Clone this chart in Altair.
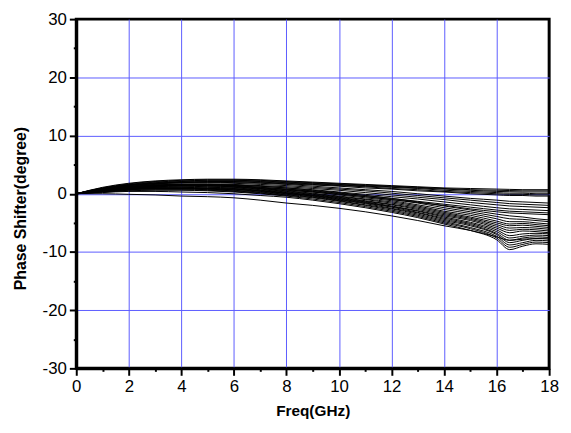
import altair as alt
import pandas as pd

freq = [0, 1, 2, 3, 4, 5, 6, 7, 8, 9, 10, 11, 12, 13, 14, 15, 16, 16.5, 17, 17.5, 18]

curves = {
    "T1": [0, 1.1, 1.8, 2.2, 2.4, 2.5, 2.5, 2.4, 2.2, 2.0, 1.8, 1.6, 1.4, 1.2, 1.0, 0.9, 0.8, 0.75, 0.7, 0.7, 0.7],
    "T2": [0, 1.0, 1.7, 2.1, 2.3, 2.4, 2.4, 2.3, 2.1, 1.9, 1.7, 1.5, 1.3, 1.1, 0.9, 0.7, 0.6, 0.55, 0.5, 0.5, 0.5],
    "T3": [0, 1.0, 1.6, 2.0, 2.2, 2.3, 2.3, 2.2, 2.0, 1.8, 1.6, 1.4, 1.2, 1.0, 0.8, 0.6, 0.4, 0.35, 0.3, 0.3, 0.3],
    "T4": [0, 0.9, 1.5, 1.9, 2.1, 2.2, 2.2, 2.1, 1.9, 1.7, 1.5, 1.3, 1.1, 0.9, 0.6, 0.4, 0.2, 0.1, 0.1, 0.0, 0.0],
    "T5": [0, 0.9, 1.5, 1.8, 2.0, 2.1, 2.1, 2.0, 1.8, 1.6, 1.4, 1.2, 0.9, 0.7, 0.4, 0.2, 0.0, -0.1, -0.1, -0.2, -0.2],
    "T6": [0, 0.8, 1.4, 1.7, 1.9, 2.0, 2.0, 1.9, 1.7, 1.5, 1.3, 1.0, 0.8, 0.5, 0.3, 0.0, -0.2, -0.3, -0.3, -0.4, -0.4],
    "M1": [0, 0.9, 1.5, 1.8, 2.0, 2.0, 1.9, 1.8, 1.6, 1.3, 1.0, 0.7, 0.4, 0.0, -0.4, -0.8, -1.1, -1.3, -1.4, -1.5, -1.6],
    "M2": [0, 0.8, 1.4, 1.7, 1.9, 1.9, 1.8, 1.6, 1.4, 1.1, 0.8, 0.5, 0.1, -0.3, -0.7, -1.1, -1.5, -1.7, -1.8, -1.9, -2.0],
    "M3": [0, 0.8, 1.3, 1.6, 1.7, 1.7, 1.6, 1.4, 1.2, 0.9, 0.6, 0.2, -0.2, -0.6, -1.0, -1.5, -1.9, -2.1, -2.2, -2.3, -2.4],
    "M4": [0, 0.7, 1.2, 1.5, 1.6, 1.6, 1.5, 1.3, 1.0, 0.7, 0.3, -0.1, -0.5, -0.9, -1.4, -1.9, -2.4, -2.6, -2.7, -2.8, -2.9],
    "M5": [0, 0.7, 1.2, 1.4, 1.5, 1.5, 1.4, 1.1, 0.8, 0.5, 0.1, -0.3, -0.8, -1.3, -1.8, -2.3, -2.8, -3.0, -3.1, -3.2, -3.3],
    "M6": [0, 0.6, 1.1, 1.3, 1.4, 1.4, 1.2, 0.9, 0.6, 0.3, -0.1, -0.5, -1.0, -1.5, -2.0, -2.6, -3.1, -3.3, -3.4, -3.5, -3.6],
    "L1": [0, 0.7, 1.2, 1.5, 1.6, 1.6, 1.5, 1.3, 1.0, 0.6, 0.2, -0.3, -0.8, -1.4, -2.1, -2.8, -3.5, -3.8, -4.0, -4.3, -4.5],
    "L2": [0, 0.7, 1.1, 1.4, 1.5, 1.5, 1.4, 1.1, 0.8, 0.4, 0.0, -0.5, -1.0, -1.6, -2.4, -3.1, -3.9, -4.3, -4.4, -4.6, -4.8],
    "L3": [0, 0.6, 1.1, 1.3, 1.4, 1.4, 1.3, 1.0, 0.7, 0.3, -0.2, -0.7, -1.2, -1.9, -2.7, -3.4, -4.3, -4.8, -4.8, -5.0, -5.2],
    "L4": [0, 0.6, 1.0, 1.3, 1.4, 1.3, 1.2, 0.9, 0.5, 0.1, -0.4, -0.9, -1.4, -2.1, -3.0, -3.7, -4.7, -5.2, -5.1, -5.3, -5.5],
    "L5": [0, 0.6, 1.0, 1.2, 1.3, 1.2, 1.1, 0.8, 0.4, 0.0, -0.5, -1.0, -1.6, -2.3, -3.2, -4.0, -5.0, -5.5, -5.4, -5.6, -5.8],
    "L6": [0, 0.5, 0.9, 1.1, 1.2, 1.1, 1.0, 0.7, 0.3, -0.1, -0.6, -1.2, -1.8, -2.5, -3.4, -4.2, -5.3, -5.9, -5.8, -5.9, -6.1],
    "L7": [0, 0.5, 0.9, 1.1, 1.1, 1.0, 0.9, 0.6, 0.2, -0.2, -0.7, -1.3, -1.9, -2.7, -3.6, -4.4, -5.6, -6.3, -6.1, -6.2, -6.4],
    "L8": [0, 0.5, 0.8, 1.0, 1.0, 0.9, 0.8, 0.5, 0.1, -0.3, -0.8, -1.4, -2.1, -2.9, -3.8, -4.6, -5.9, -6.7, -6.4, -6.5, -6.7],
    "B1": [0, 0.5, 0.8, 1.0, 1.0, 0.9, 0.8, 0.5, 0.1, -0.3, -0.9, -1.5, -2.2, -3.0, -4.0, -4.9, -6.2, -7.2, -6.9, -6.8, -6.9],
    "B2": [0, 0.4, 0.8, 0.9, 0.9, 0.8, 0.7, 0.4, 0.0, -0.4, -1.0, -1.6, -2.3, -3.2, -4.2, -5.1, -6.5, -7.6, -7.3, -7.1, -7.2],
    "B3": [0, 0.4, 0.7, 0.9, 0.9, 0.8, 0.6, 0.3, -0.1, -0.5, -1.1, -1.7, -2.5, -3.3, -4.4, -5.3, -6.8, -8.0, -7.6, -7.4, -7.5],
    "B4": [0, 0.4, 0.7, 0.8, 0.8, 0.7, 0.5, 0.2, -0.2, -0.6, -1.2, -1.9, -2.6, -3.5, -4.6, -5.5, -7.0, -8.4, -8.0, -7.7, -7.8],
    "B5": [0, 0.3, 0.6, 0.7, 0.7, 0.6, 0.4, 0.1, -0.3, -0.7, -1.3, -2.0, -2.8, -3.7, -4.8, -5.8, -7.3, -8.8, -8.4, -8.0, -8.1],
    "B6": [0, 0.3, 0.5, 0.6, 0.6, 0.5, 0.3, 0.0, -0.4, -0.9, -1.5, -2.2, -3.0, -3.9, -5.0, -6.0, -7.6, -9.2, -8.7, -8.3, -8.4],
    "B7": [0, 0.2, 0.4, 0.4, 0.3, 0.2, 0.0, -0.3, -0.6, -1.1, -1.7, -2.4, -3.2, -4.1, -5.2, -6.3, -7.9, -9.6, -9.0, -8.6, -8.7],
    "X1": [0, 0.0, -0.1, -0.2, -0.4, -0.5, -0.7, -1.1, -1.6, -2.0, -2.5, -3.1, -3.8, -4.6, -5.5, -6.3, -7.4, -8.0, -7.8, -7.7, -7.6],
}

x_title = "Freq(GHz)"
y_title = "Phase Shifter(degree)"
x_tick_values = list(range(0, 19))
y_tick_values = list(range(-30, 31, 5))

rows = []
for name, vals in curves.items():
    for f, v in zip(freq, vals):
        rows.append({"curve": name, "freq": f, "phase": v})
df = pd.DataFrame(rows)

FONT = "Liberation Sans"
GRID = "#5c5cff"

x_axis = alt.Axis(
    values=x_tick_values,
    labelExpr="datum.value % 2 === 0 ? '' + datum.value : ''",
    tickSize={"condition": {"test": "datum.value % 2 !== 0", "value": 3}, "value": 7},
    tickColor="#000000", tickWidth=2, tickOpacity=1,
    gridOpacity={"condition": {"test": "datum.value % 2 !== 0 || datum.value === 0 || datum.value === 18", "value": 0}, "value": 1},
    gridColor=GRID, gridWidth=1,
    domainColor="#000000", domainWidth=3, domainOpacity=1,
    labelFont=FONT, labelFontSize=17, labelColor="black", labelPadding=3,
    labelFlush=False,
    title=x_title, titleFont=FONT, titleFontSize=15.5, titleFontWeight="bold",
    titleColor="black", titleBaseline="middle", titleX=239, titleY=43,
)
y_axis = alt.Axis(
    values=y_tick_values,
    labelExpr="datum.value % 10 === 0 ? '' + datum.value : ''",
    tickSize={"condition": {"test": "datum.value % 10 !== 0", "value": 3}, "value": 7},
    tickColor="#000000", tickWidth=2, tickOpacity=1,
    gridOpacity={"condition": {"test": "datum.value % 10 !== 0 || datum.value === 30 || datum.value === -30", "value": 0}, "value": 1},
    gridColor=GRID, gridWidth=1,
    domainColor="#000000", domainWidth=3, domainOpacity=1,
    labelFont=FONT, labelFontSize=17, labelColor="black", labelPadding=3,
    labelFlush=False,
    title=y_title, titleFont=FONT, titleFontSize=16, titleFontWeight="bold",
    titleColor="black", titleBaseline="middle", titleAngle=-90,
    titleX=-56, titleY=191, titleAlign="center",
)

chart = alt.Chart(df).mark_line(color="black", strokeWidth=1.0, interpolate="monotone").encode(
    x=alt.X("freq:Q", scale=alt.Scale(domain=[0, 18], nice=False, zero=False), axis=x_axis),
    y=alt.Y("phase:Q", scale=alt.Scale(domain=[-30, 30], nice=False), axis=y_axis),
    detail="curve:N",
).properties(
    width=478, height=353,
    background="white",
    autosize=alt.AutoSizeParams(type="none"),
    padding={"left": 69, "top": 9, "right": 14, "bottom": 55},
    view=alt.ViewBackground(stroke="#000000", strokeWidth=3, strokeOpacity=1),
)

chart.save("out.html", embed_options={"renderer": "svg", "actions": False})
